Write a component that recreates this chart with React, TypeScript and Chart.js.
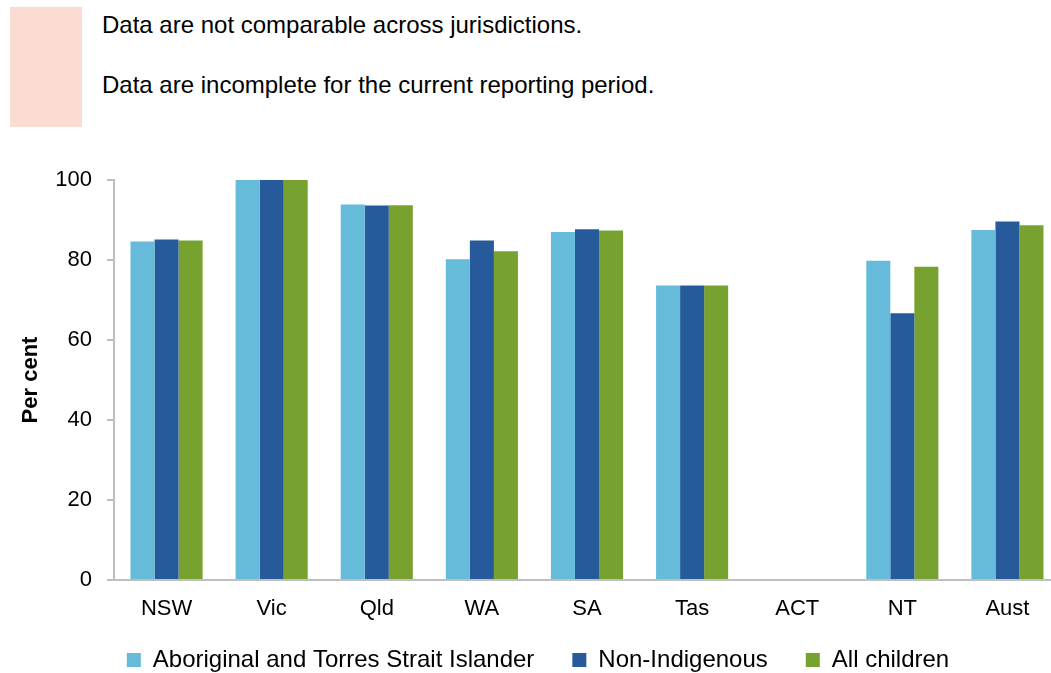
import React, { useEffect, useRef } from "react";
import { Chart, registerables } from "chart.js";

Chart.register(...registerables);

const categories = ["NSW", "Vic", "Qld", "WA", "SA", "Tas", "ACT", "NT", "Aust"];
const aboriginal = [84.6, 100, 93.9, 80.2, 87.0, 73.6, null, 79.8, 87.5];
const nonIndigenous = [85.1, 100, 93.6, 84.9, 87.7, 73.6, null, 66.7, 89.6];
const allChildren = [84.9, 100, 93.7, 82.2, 87.4, 73.6, null, 78.3, 88.7];
const seriesNames = ["Aboriginal and Torres Strait Islander", "Non-Indigenous", "All children"];
const seriesColors = ["#66BBDB", "#265A9A", "#78A22F"];
const notes = ["Data are not comparable across jurisdictions.", "Data are incomplete for the current reporting period."];
const yTitle = "Per cent";

const FONT = "'Liberation Sans', Arial, Helvetica, sans-serif";

const adjustPlugin = {
  id: "adjustBoxes",
  afterLayout(chart: any) {
    const x = chart.scales.x;
    if (x) x.bottom = x.top + 48;
    const lg = chart.legend;
    if (lg) {
      lg.left += 8;
      lg.right += 8;
    }
  },
};

export default function App() {
  const canvasRef = useRef<HTMLCanvasElement | null>(null);

  useEffect(() => {
    if (!canvasRef.current) return;
    const chart = new Chart(canvasRef.current, {
      type: "bar",
      data: {
        labels: categories,
        datasets: [aboriginal, nonIndigenous, allChildren].map((d, i) => ({
          label: seriesNames[i],
          data: d,
          backgroundColor: seriesColors[i],
          borderWidth: 0,
          categoryPercentage: 0.686,
          barPercentage: 1.0,
        })),
      },
      plugins: [adjustPlugin],
      options: {
        animation: false,
        responsive: false,
        maintainAspectRatio: false,
        layout: { padding: { top: 180, left: 0, right: 0, bottom: 0 } },
        font: { family: FONT },
        plugins: {
          tooltip: { enabled: false },
          legend: {
            position: "bottom",
            maxHeight: 63,
            labels: {
              boxWidth: 14,
              boxHeight: 14,
              padding: 38,
              color: "#000",
              font: { family: FONT, size: 24 },
            },
          },
        },
        scales: {
          x: {
            afterFit: (s: any) => {
              s.height = 30;
            },
            grid: { drawOnChartArea: false, drawTicks: false },
            border: { display: true, color: "#BFBFBF", width: 2 },
            ticks: { color: "#000", padding: 16, font: { family: FONT, size: 22 } },
          },
          y: {
            min: 0,
            max: 100,
            afterFit: (s: any) => {
              s.width = 114;
            },
            grid: { drawOnChartArea: false, drawTicks: true, tickLength: 7, color: "#BFBFBF", lineWidth: 2 },
            border: { display: true, color: "#BFBFBF", width: 2 },
            ticks: { stepSize: 20, color: "#000", padding: 15, font: { family: FONT, size: 22 } },
            title: {
              display: true,
              text: yTitle,
              color: "#000",
              padding: { top: 18, bottom: 0 },
              font: { family: FONT, size: 22, weight: "bold" },
            },
          },
        },
      },
    });
    return () => chart.destroy();
  }, []);

  return (
    <div
      style={{
        position: "fixed",
        left: 0,
        top: 0,
        width: 1051,
        height: 673,
        overflow: "hidden",
        background: "#fff",
        fontFamily: FONT,
      }}
    >
      <div
        style={{
          position: "absolute",
          left: 10,
          top: 7,
          width: 72,
          height: 120,
          background: "#FADCD2",
        }}
      />
      {notes.map((t, i) => (
        <div
          key={i}
          style={{
            position: "absolute",
            left: 102,
            top: 11 + i * 60,
            fontSize: 24,
            lineHeight: "27px",
            color: "#000",
            whiteSpace: "nowrap",
          }}
        >
          {t}
        </div>
      ))}
      <canvas
        ref={canvasRef}
        width={1060}
        height={673}
        style={{ position: "absolute", left: 0, top: 0, width: 1060, height: 673 }}
      />
    </div>
  );
}
